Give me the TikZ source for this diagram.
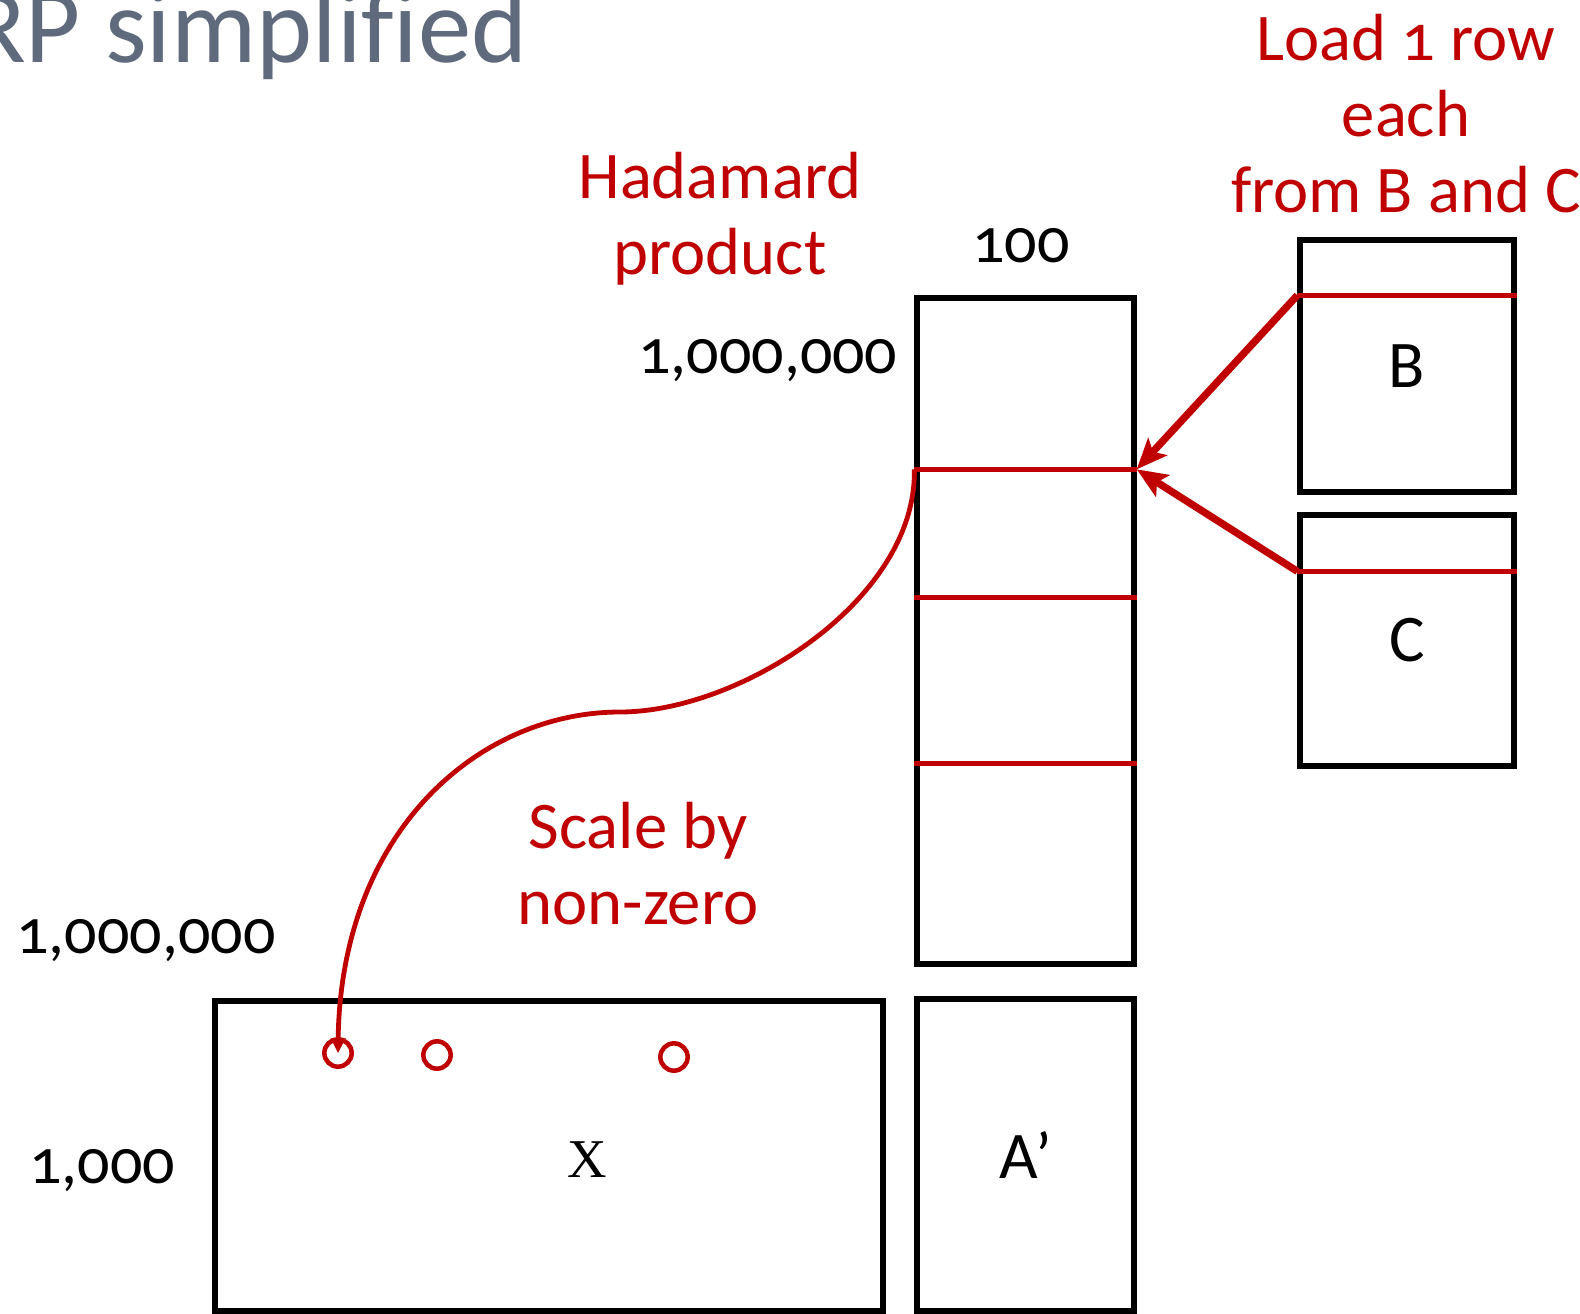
\documentclass[tikz,border=0pt]{standalone}
\usepackage{fontspec}
\setmainfont{Carlito}[Numbers=OldStyle, Ligatures=NoCommon]
\newfontfamily\xserif{Liberation Serif}
\usetikzlibrary{arrows.meta}
\definecolor{accent}{HTML}{C00000}
\definecolor{titlegray}{HTML}{5F6A7D}

\tikzset{
  matbox/.style 2 args={draw=black, line width=4pt, inner sep=0pt,
    minimum width=#1*0.75pt, minimum height=#2*0.75pt,
    font=\fontsize{50}{56}\selectfont},
  rowline/.style={draw=accent, line width=3.5pt},
  loadarrow/.style={draw=accent, line width=5.5pt,
    -{Stealth[length=23pt, width=19pt, inset=5pt]}},
  scalearrow/.style={draw=accent, line width=3.6pt,
    -{Stealth[length=11pt, width=11pt, inset=2pt]}},
  nzdot/.style={draw=accent, line width=3.4pt, circle, inner sep=0pt,
    minimum size=20.5pt},
  note/.style={text=accent, align=center, anchor=base,
    font=\fontsize{50}{57}\selectfont},
  dimlabel/.style={text=black, anchor=base, font=\fontsize{48}{56}\selectfont},
}

\begin{document}
\begin{tikzpicture}[x=0.75pt, y=-0.75pt]
\useasboundingbox (0,0) rectangle (1580,1313);

% heading, partly running off the left edge
\node[anchor=base east, inner sep=0pt, text=titlegray,
      font=\fontsize{80}{90}\selectfont] (title) at (528,63) {RP simplified};

% matrices
\node[matbox={217}{666}] (A) at (1025.5,631) {};
\node[matbox={214}{252}] (B) at (1407,366) {B};
\node[matbox={214}{251}] (C) at (1407,640.5) {C};
\node[matbox={668}{310}] (X) at (549,1156) {};
\node[matbox={217}{312}] (Ap) at (1025.5,1155) {A’};
\node[anchor=base, inner sep=0pt, font=\xserif\fontsize{41}{48}\selectfont] (xlabel) at (587,1177) {X};

% rows of the tall matrix
\path (A.north west) ++(0,174) coordinate (r1w);
\path (A.north west) ++(0,302) coordinate (r2w);
\path (A.north west) ++(0,468) coordinate (r3w);
\coordinate (r1e) at (r1w -| A.east);
\draw[rowline] (r1w) -- (r1e);
\draw[rowline] (r2w) -- (r2w -| A.east);
\draw[rowline] (r3w) -- (r3w -| A.east);

% rows loaded from B and C
\path (B.north west) ++(0,58) coordinate (bw);
\path (C.north west) ++(0,59) coordinate (cw);
\draw[rowline] (bw) -- (bw -| B.east);
\draw[rowline] (cw) -- (cw -| C.east);
\draw[loadarrow] (bw) -- (r1e);
\draw[loadarrow] (cw) -- (r1e);

% non-zeros of X
\node[nzdot] (n1) at (338,1053) {};
\node[nzdot] (n2) at (437,1055) {};
\node[nzdot] (n3) at (674,1057) {};

% scaling curve
\draw[scalearrow] (r1w) .. controls (917,600) and (740,712) .. (620,712)
  .. controls (480,712) and (340,830) .. (n1.center);

% dimensions
\node[dimlabel] (d100) at (1021,262) {100};
\node[dimlabel, anchor=base east] (dArows) at (902,373) {1,000,000};
\node[dimlabel] (dXcols) at (146,953) {1,000,000};
\node[dimlabel] (dXrows) at (102,1183) {1,000};

% annotations (anchored at the baseline of their last line)
\node[note] (had) at (720,274) {Hadamard\\product};
\node[note] (scl) at (638,924) {Scale by\\non-zero};
\node[note] (load) at (1406,212) {Load 1 row\\each\\from B and C};
\end{tikzpicture}
\end{document}
